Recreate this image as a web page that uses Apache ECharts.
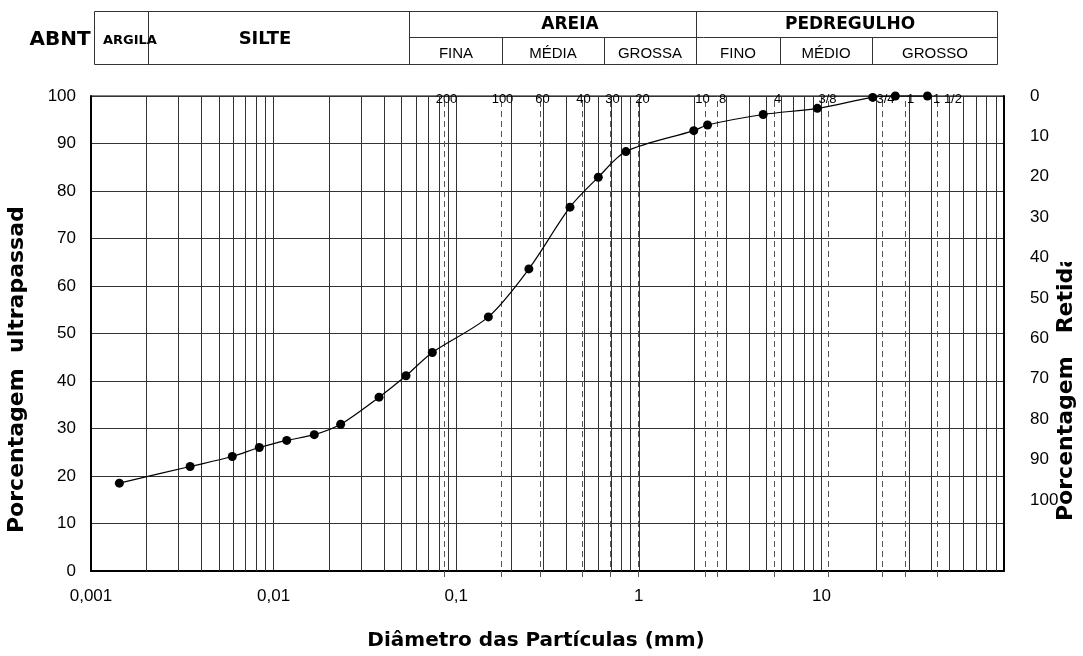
<!DOCTYPE html>
<html>
<head>
<meta charset="utf-8">
<script src="https://cdn.jsdelivr.net/npm/echarts@6/dist/echarts.min.js"></script>
<style>
  html, body { margin: 0; padding: 0; background: #fff; }
  #chart { width: 1083px; height: 656px; }
</style>
</head>
<body>
<div id="chart"></div>
<script>
// Curva granulométrica: diâmetro das partículas (mm) x porcentagem que passa
const diameters = [0.00143, 0.00349, 0.00594, 0.00835, 0.0118, 0.0167, 0.0233, 0.0378, 0.0531,
                   0.074, 0.15, 0.25, 0.42, 0.60, 0.85, 2.0, 2.38, 4.8, 9.5, 19.1, 25.4, 38.1];
const passing   = [18.5, 22.0, 24.1, 26.0, 27.5, 28.7, 30.9, 36.6, 41.1,
                   46.0, 53.5, 63.6, 76.6, 82.9, 88.3, 92.7, 93.9, 96.1, 97.4, 99.7, 100, 100];

// Peneiras: nome e posição das linhas tracejadas no eixo de diâmetros
const sieveNames = ['200', '100', '60', '40', '30', '20', '10', '8', '4', '3/8', '3/4', '1', '1 1/2'];
const sieveMarkX = [0.0858, 0.175, 0.289, 0.49, 0.693, 0.994, 2.30, 2.69, 5.48, 10.8, 21.6, 28.7, 42.8];
// deslocamento horizontal (px) de cada número de peneira em relação à sua linha
const sieveLabelDx = [2, 1, 2, 1, 2, 4, -3, 5, 3, -1, 3, 5, 10];

// Rótulos do eixo de diâmetros (vírgula decimal)
const xTickLabels = { '0.001': '0,001', '0.01': '0,01', '0.1': '0,1', '1': '1', '10': '10' };

// Rótulos do eixo secundário (porcentagem retida)
const retainedTicks = [0, 10, 20, 30, 40, 50, 60, 70, 80, 90, 100];

// Classificação ABNT (cabeçalho)
const abntTop = ['ARGILA', 'SILTE', 'AREIA', 'PEDREGULHO'];
const abntSub = ['FINA', 'MÉDIA', 'GROSSA', 'FINO', 'MÉDIO', 'GROSSO'];

// Linhas de grade logarítmicas intermediárias (2..9 em cada década)
const logGridValues = [];
for (let k = -3; k <= 1; k++) {
  for (let m = 2; m <= 9; m++) logGridValues.push(+(m * Math.pow(10, k)).toPrecision(3));
}

const SANS = '"Liberation Sans", Arial, sans-serif';
const BOLD = '"DejaVu Sans", "Liberation Sans", sans-serif';
const LINE = '#333';

const chart = echarts.init(document.getElementById('chart'), null, { renderer: 'canvas' });

function hLine(x1, x2, y) {
  return { type: 'line', shape: { x1: x1, y1: y, x2: x2, y2: y }, style: { stroke: LINE, lineWidth: 1 }, silent: true };
}
function vLine(x, y1, y2) {
  return { type: 'line', shape: { x1: x, y1: y1, x2: x, y2: y2 }, style: { stroke: LINE, lineWidth: 1 }, silent: true };
}
function label(text, x, y, size, bold, align) {
  return {
    type: 'text', x: x, y: y, silent: true, z: 20,
    style: {
      text: text, fill: '#000',
      fontSize: size, fontWeight: bold ? 'bold' : 'normal', fontFamily: bold ? BOLD : SANS,
      align: align || 'center', textAlign: align || 'center',
      verticalAlign: 'middle', textVerticalAlign: 'middle'
    }
  };
}
function vTitle(text, x, y) {
  return {
    type: 'text', x: x, y: y, rotation: Math.PI / 2, silent: true, z: 10,
    style: { text: text, fill: '#000', fontSize: 22, fontWeight: 'bold', fontFamily: BOLD,
             align: 'left', textAlign: 'left', verticalAlign: 'middle', textVerticalAlign: 'middle' }
  };
}

const header = [
  // moldura da tabela
  hLine(94.5, 997.5, 11.5), hLine(94.5, 997.5, 64.5), hLine(409.5, 997.5, 37.5),
  vLine(94.5, 11.5, 64.5), vLine(148.5, 11.5, 64.5), vLine(409.5, 11.5, 64.5),
  vLine(696.5, 11.5, 64.5), vLine(997.5, 11.5, 64.5),
  vLine(502.5, 37.5, 64.5), vLine(604.5, 37.5, 64.5), vLine(780.5, 37.5, 64.5), vLine(872.5, 37.5, 64.5),
  label('ABNT', 60, 40, 20, true),
  label(abntTop[0], 103, 41, 13, true, 'left'),
  label(abntTop[1], 265, 39, 18, true),
  label(abntTop[2], 570, 25, 17, true),
  label(abntTop[3], 850, 25, 17, true),
  label(abntSub[0], 456, 54, 15, false),
  label(abntSub[1], 553, 54, 15, false),
  label(abntSub[2], 650, 54, 15, false),
  label(abntSub[3], 738, 54, 15, false),
  label(abntSub[4], 826, 54, 15, false),
  label(abntSub[5], 935, 54, 15, false)
];

const titles = [
  label('Diâmetro das Partículas (mm)', 536, 641, 20, true),
  vTitle('Porcentagem  ultrapassada', 17, 533),
  vTitle('Porcentagem   Retida', 1066, 521),
  // recorte dos títulos verticais
  { type: 'rect', shape: { x: 0, y: 100, width: 38, height: 107 }, style: { fill: '#fff' }, silent: true, z: 11 },
  { type: 'rect', shape: { x: 1055, y: 100, width: 28, height: 162 }, style: { fill: '#fff' }, silent: true, z: 11 }
];

const option = {
  animation: false,
  backgroundColor: '#fff',
  textStyle: { fontFamily: SANS, color: '#000' },
  grid: {
    left: 91, right: 79, top: 96, bottom: 85,
    show: true, borderColor: '#000', borderWidth: 1, backgroundColor: 'transparent'
  },
  xAxis: {
    type: 'log', logBase: 10, min: 0.001, max: 100,
    axisLine: { show: true, onZero: false, lineStyle: { color: '#000', width: 2 } },
    axisTick: { show: false },
    splitLine: { show: true, lineStyle: { color: LINE, width: 1 } },
    axisLabel: {
      fontSize: 17, color: '#000', margin: 17, fontFamily: SANS,
      formatter: function (v) {
        const key = String(parseFloat(Number(v).toPrecision(6)));
        return xTickLabels[key] || '';
      }
    }
  },
  yAxis: [
    {
      type: 'value', min: 0, max: 100, interval: 10,
      axisLine: { show: true, lineStyle: { color: '#000', width: 2 } },
      axisTick: { show: false },
      splitLine: { show: true, lineStyle: { color: LINE, width: 1 } },
      axisLabel: { fontSize: 17, color: '#000', margin: 15, fontFamily: SANS }
    },
    {
      type: 'value', min: 0, max: 117.6, interval: 10, inverse: true, position: 'right',
      axisLine: { show: true, lineStyle: { color: '#000', width: 2 } },
      axisTick: { show: false },
      splitLine: { show: false },
      axisLabel: {
        fontSize: 17, color: '#000', margin: 26, fontFamily: SANS,
        formatter: function (v) { return retainedTicks.indexOf(Math.round(v)) >= 0 && Math.abs(v - Math.round(v)) < 1e-6 ? String(Math.round(v)) : ''; }
      }
    }
  ],
  graphic: { elements: header.concat(titles) },
  series: [
    {
      // grade logarítmica intermediária
      type: 'custom', silent: true, z: 1,
      data: logGridValues.map(function (v) { return [v, 0]; }),
      renderItem: function (params, api) {
        const v = api.value(0);
        const p0 = api.coord([v, 0]);
        const p1 = api.coord([v, 100]);
        const x = Math.round(p0[0]) + 0.5;
        return { type: 'line', shape: { x1: x, y1: p0[1], x2: x, y2: p1[1] }, style: { stroke: LINE, lineWidth: 1 } };
      }
    },
    {
      // peneiras: linhas tracejadas e números
      type: 'custom', silent: true, z: 2,
      data: sieveMarkX.map(function (v, i) { return [v, 100, i]; }),
      renderItem: function (params, api) {
        const v = api.value(0);
        const i = api.value(2);
        const p0 = api.coord([v, 0]);
        const p1 = api.coord([v, 100]);
        const x = Math.round(p0[0]) + 0.5;
        return {
          type: 'group',
          children: [
            { type: 'line', shape: { x1: x, y1: p0[1] + 6, x2: x, y2: p1[1] },
              style: { stroke: '#555', lineWidth: 1, lineDash: [6, 4] } },
            { type: 'text', x: x + sieveLabelDx[i], y: p1[1] + 3,
              style: { text: sieveNames[i], fill: '#000', fontSize: 13, fontFamily: SANS,
                       align: 'center', textAlign: 'center', verticalAlign: 'middle', textVerticalAlign: 'middle' } }
          ]
        };
      }
    },
    {
      type: 'line', z: 10, clip: false,
      data: diameters.map(function (d, i) { return [d, passing[i]]; }),
      smooth: 0.3,
      symbol: 'circle', symbolSize: 9,
      itemStyle: { color: '#000' },
      lineStyle: { color: '#000', width: 1.2 }
    }
  ]
};

chart.setOption(option);
</script>
</body>
</html>
